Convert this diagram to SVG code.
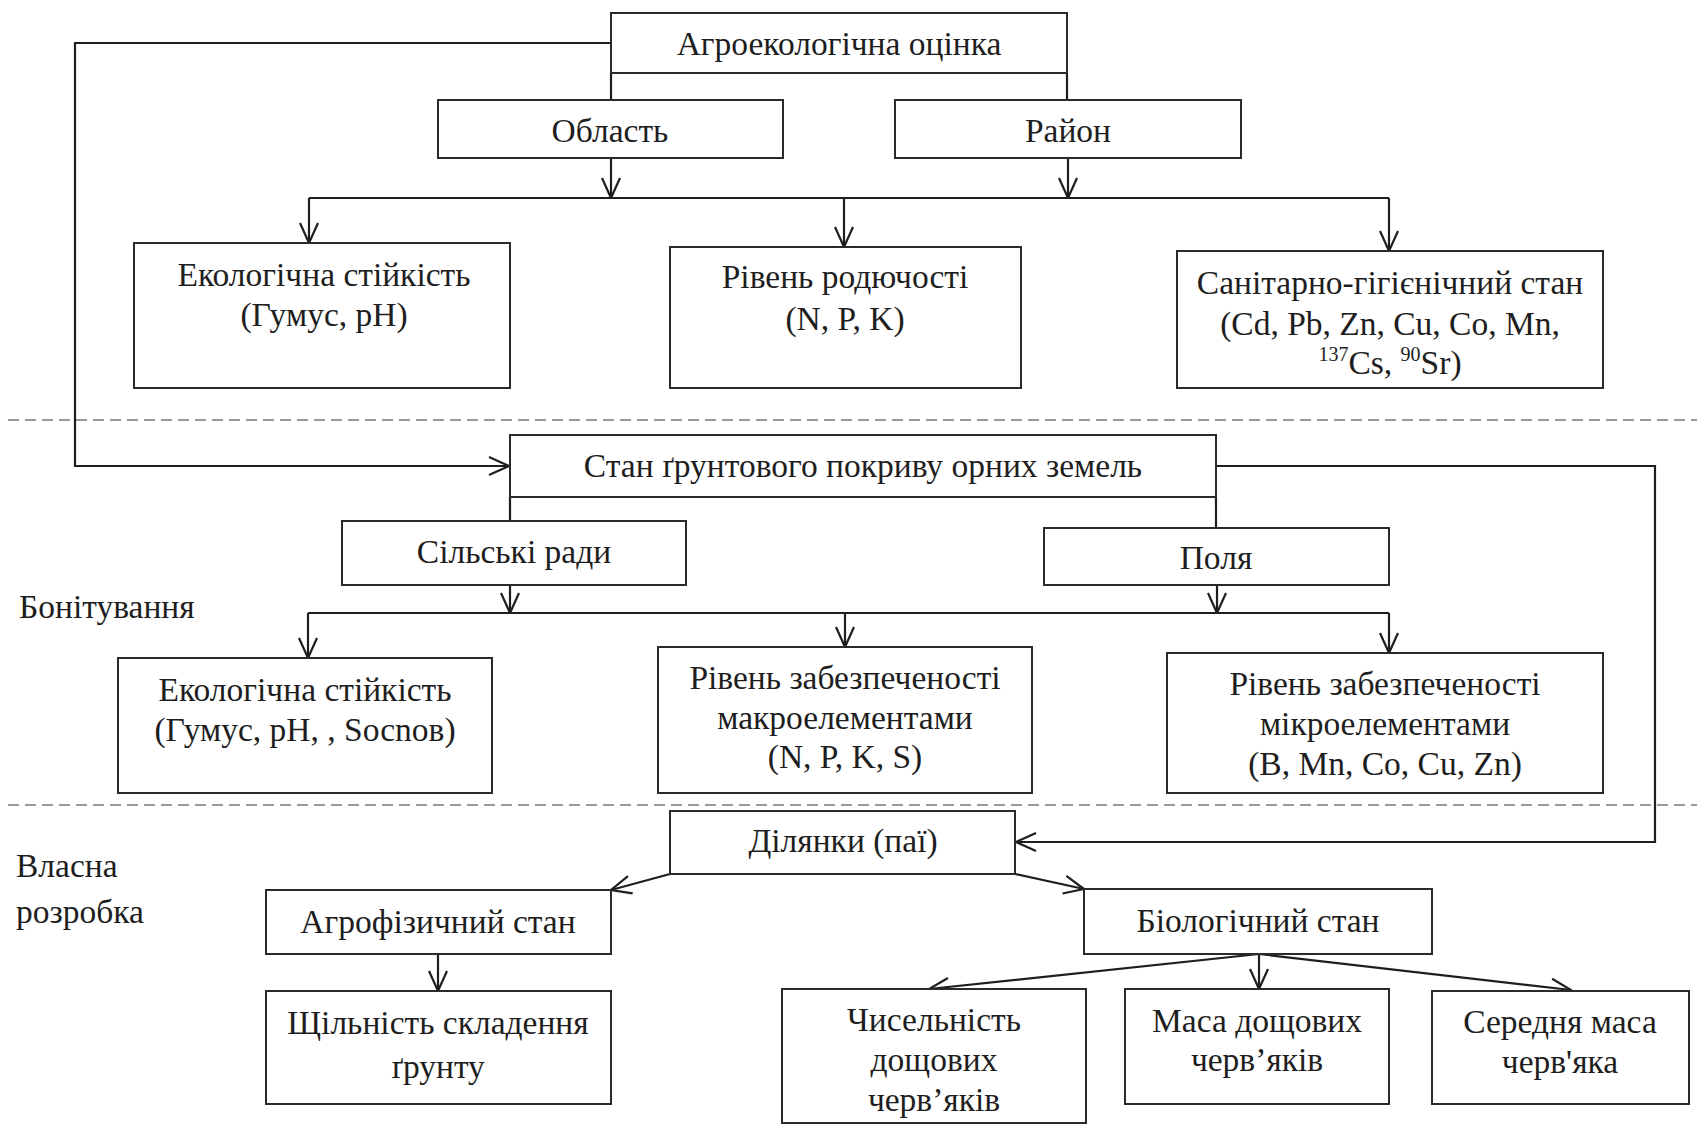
<svg xmlns="http://www.w3.org/2000/svg" width="1697" height="1124" viewBox="0 0 1697 1124">
<style>
.box{fill:#fff;stroke:#2a2a2a;stroke-width:2}
.t{font-family:"Liberation Serif","Times New Roman",serif;font-size:33.5px;fill:#1e1e1e;text-anchor:middle}
.l{font-family:"Liberation Serif","Times New Roman",serif;font-size:33.5px;fill:#1e1e1e}
.c{fill:none;stroke:#1e1e1e;stroke-width:2.2}
.a{marker-end:url(#arr)}
.d{stroke:#9a9a9a;stroke-width:2;stroke-dasharray:11 6;fill:none}
</style>
<defs>
<marker id="arr" viewBox="0 0 22 22" refX="21" refY="11" markerWidth="22" markerHeight="22" markerUnits="userSpaceOnUse" orient="auto">
<path d="M1,2 L21,11 L1,20" fill="none" stroke="#1e1e1e" stroke-width="2.2"/>
</marker>
</defs>
<rect width="1697" height="1124" fill="#fff"/>
<g id="dividers">
<line class="d" x1="8" y1="420" x2="1697" y2="420"/>
<line class="d" x1="8" y1="805" x2="1697" y2="805"/>
</g>
<g id="connectors">
<polyline class="c a" points="611,43 75,43 75,466 509,466"/>
<line class="c" x1="611" y1="73" x2="611" y2="100"/>
<line class="c" x1="1067" y1="73" x2="1067" y2="100"/>
<line class="c a" x1="611" y1="158" x2="611" y2="198"/>
<line class="c a" x1="1068" y1="158" x2="1068" y2="198"/>
<line class="c" x1="309" y1="198" x2="1389" y2="198"/>
<line class="c a" x1="309" y1="198" x2="309" y2="243"/>
<line class="c a" x1="844" y1="198" x2="844" y2="247"/>
<line class="c a" x1="1389" y1="198" x2="1389" y2="251"/>
<line class="c" x1="510" y1="497" x2="510" y2="521"/>
<line class="c" x1="1216" y1="497" x2="1216" y2="528"/>
<line class="c a" x1="510" y1="585" x2="510" y2="613"/>
<line class="c a" x1="1217" y1="585" x2="1217" y2="613"/>
<line class="c" x1="308" y1="613" x2="1389" y2="613"/>
<line class="c a" x1="308" y1="613" x2="308" y2="658"/>
<line class="c a" x1="845" y1="613" x2="845" y2="647"/>
<line class="c a" x1="1389" y1="613" x2="1389" y2="653"/>
<polyline class="c a" points="1216,466 1655,466 1655,842 1016,842"/>
<line class="c a" x1="670" y1="874" x2="611" y2="890"/>
<line class="c a" x1="1015" y1="874" x2="1084" y2="889"/>
<line class="c a" x1="438" y1="954" x2="438" y2="991"/>
<line class="c a" x1="1259" y1="954" x2="929" y2="989"/>
<line class="c a" x1="1259" y1="954" x2="1259" y2="989"/>
<line class="c a" x1="1259" y1="954" x2="1571" y2="990"/>
</g>
<g id="n-agro"><rect class="box" x="611" y="13" width="456" height="60"/><text class="t" x="839" y="55">Агроекологічна оцінка</text></g>
<g id="n-oblast"><rect class="box" x="438" y="100" width="345" height="58"/><text class="t" x="610" y="142">Область</text></g>
<g id="n-raion"><rect class="box" x="895" y="100" width="346" height="58"/><text class="t" x="1068" y="142">Район</text></g>
<g id="n-eco1"><rect class="box" x="134" y="243" width="376" height="145"/><text class="t" x="324" y="286">Екологічна стійкість</text><text class="t" x="324" y="326">(Гумус, pH)</text></g>
<g id="n-rod"><rect class="box" x="670" y="247" width="351" height="141"/><text class="t" x="845" y="288">Рівень родючості</text><text class="t" x="845" y="330">(N, P, K)</text></g>
<g id="n-san"><rect class="box" x="1177" y="251" width="426" height="137"/><text class="t" x="1390" y="294">Санітарно-гігієнічний стан</text><text class="t" x="1390" y="335">(Cd, Pb, Zn, Cu, Co, Mn,</text><text class="t" x="1390" y="374"><tspan font-size="20" dy="-13">137</tspan><tspan dy="13">Cs, </tspan><tspan font-size="20" dy="-13">90</tspan><tspan dy="13">Sr)</tspan></text></g>
<g id="n-stan"><rect class="box" x="510" y="435" width="706" height="62"/><text class="t" x="863" y="477">Стан ґрунтового покриву орних земель</text></g>
<g id="n-silski"><rect class="box" x="342" y="521" width="344" height="64"/><text class="t" x="514" y="563">Сільські ради</text></g>
<g id="n-polya"><rect class="box" x="1044" y="528" width="345" height="57"/><text class="t" x="1216" y="569">Поля</text></g>
<text class="l" x="19" y="618">Бонітування</text>
<g id="n-eco2"><rect class="box" x="118" y="658" width="374" height="135"/><text class="t" x="305" y="701">Екологічна стійкість</text><text class="t" x="305" y="741">(Гумус, pH, , Sосnов)</text></g>
<g id="n-macro"><rect class="box" x="658" y="647" width="374" height="146"/><text class="t" x="845" y="689">Рівень забезпеченості</text><text class="t" x="845" y="729">макроелементами</text><text class="t" x="845" y="768">(N, P, K, S)</text></g>
<g id="n-micro"><rect class="box" x="1167" y="653" width="436" height="140"/><text class="t" x="1385" y="695">Рівень забезпеченості</text><text class="t" x="1385" y="735">мікроелементами</text><text class="t" x="1385" y="775">(B, Mn, Co, Cu, Zn)</text></g>
<g id="n-dil"><rect class="box" x="670" y="811" width="345" height="63"/><text class="t" x="843" y="852">Ділянки (паї)</text></g>
<text class="l" x="16" y="877">Власна</text>
<text class="l" x="16" y="923">розробка</text>
<g id="n-agrofiz"><rect class="box" x="266" y="890" width="345" height="64"/><text class="t" x="438" y="933">Агрофізичний стан</text></g>
<g id="n-bio"><rect class="box" x="1084" y="889" width="348" height="65"/><text class="t" x="1258" y="932">Біологічний стан</text></g>
<g id="n-shchil"><rect class="box" x="266" y="991" width="345" height="113"/><text class="t" x="438" y="1034">Щільність складення</text><text class="t" x="438" y="1078">ґрунту</text></g>
<g id="n-chysel"><rect class="box" x="782" y="989" width="304" height="134"/><text class="t" x="934" y="1031">Чисельність</text><text class="t" x="934" y="1071">дощових</text><text class="t" x="934" y="1111">черв’яків</text></g>
<g id="n-masa"><rect class="box" x="1125" y="989" width="264" height="115"/><text class="t" x="1257" y="1032">Маса дощових</text><text class="t" x="1257" y="1071">черв’яків</text></g>
<g id="n-sered"><rect class="box" x="1432" y="991" width="257" height="113"/><text class="t" x="1560" y="1033">Середня маса</text><text class="t" x="1560" y="1073">черв'яка</text></g>
</svg>
